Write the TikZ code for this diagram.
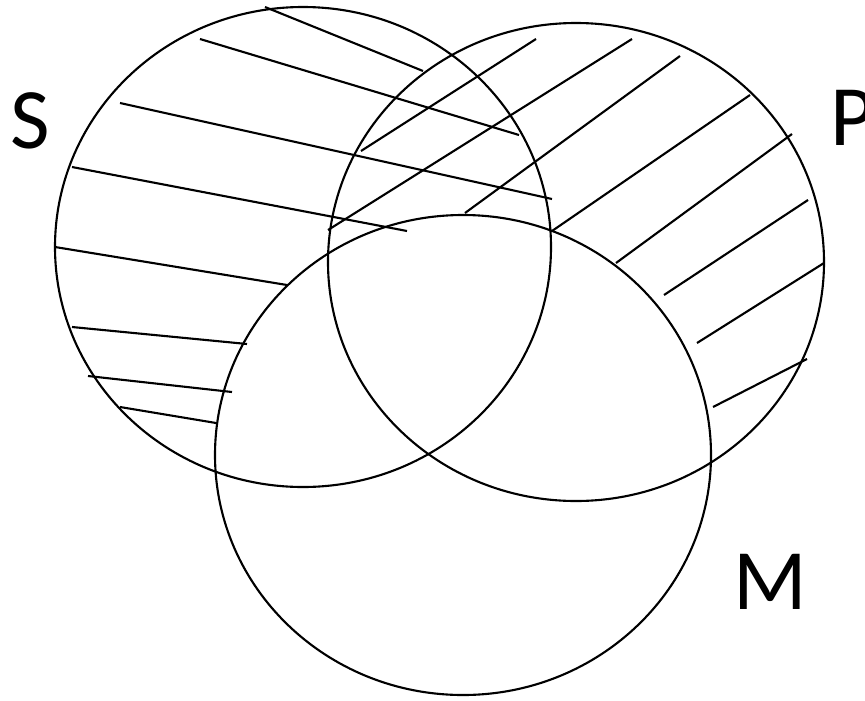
\documentclass[tikz,border=0pt]{standalone}
\usepackage{fontspec}
\setmainfont{Carlito}

\begin{document}
\begin{tikzpicture}[x=0.02cm, y=-0.02cm, line width=1.2pt,
  set/.style={draw=black},
  lbl/.style={anchor=base, inner sep=0pt, font=\fontsize{49}{55}\selectfont}]
\useasboundingbox (0,0) rectangle (865,700);
% the three sets
\draw[set] (303,247) ellipse [x radius=248, y radius=240];
\draw[set] (576,262) ellipse [x radius=248, y radius=239];
\draw[set] (463,455) ellipse [x radius=248, y radius=240];
% hatching of S
\foreach \xa/\ya/\xb/\yb in {265/7/423/71, 200/39/519/135, 120/103/552/199, 72/167/407/231,
  55/247/287/285, 72/327/247/344, 88/376/232/392, 120/407/216/423} {
  \draw (\xa,\ya) -- (\xb,\yb);
}
% hatching of P
\foreach \xa/\ya/\xb/\yb in {361/151/536/39, 328/230/632/39, 465/213/680/56, 552/231/750/95,
  616/263/792/134, 664/295/808/200, 697/343/824/263, 713/407/807/359} {
  \draw (\xa,\ya) -- (\xb,\yb);
}
\node[lbl] (s) at (30,148) {S};
\node[lbl] (p) at (853,145) {P};
\node[lbl] (m) at (770,609) {M};
\end{tikzpicture}
\end{document}
